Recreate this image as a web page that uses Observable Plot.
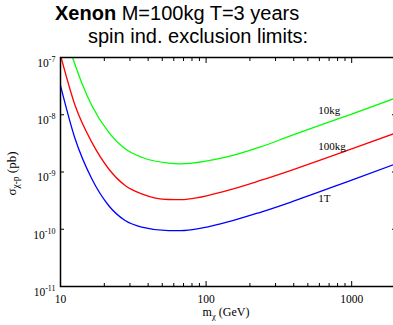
<!DOCTYPE html>
<html>
<head>
<meta charset="utf-8">
<script src="https://cdn.jsdelivr.net/npm/d3@7"></script>
<script src="https://cdn.jsdelivr.net/npm/@observablehq/plot@0.6"></script>
<style>
  html, body { margin: 0; padding: 0; background: white; }
  #chart { width: 393px; height: 325px; overflow: hidden; }
</style>
</head>
<body>
<div id="chart"></div>
<script>
// ---- data ----
const greenMass  = [12.1, 14.0, 16.4, 21.4, 27.8, 36.1, 55, 67, 139, 236, 379, 1000, 2000];
const greenSigma = [1e-7, 3.6e-8, 1.45e-8, 4.96e-9, 2.54e-9, 1.81e-9, 1.43e-9, 1.39e-9, 1.83e-9, 2.74e-9, 4.26e-9, 1.03e-8, 1.95e-8];

const redMass  = [10.1, 12.6, 16.4, 21.4, 27.8, 36.1, 55, 67, 139, 236, 379, 1000, 2000];
const redSigma = [1e-7, 1.45e-8, 3.32e-9, 1.14e-9, 5.81e-10, 4.16e-10, 3.31e-10, 3.3e-10, 4.75e-10, 7.11e-10, 1.06e-9, 2.53e-9, 4.77e-9];

const blueMass  = [10, 12.6, 16.4, 21.4, 27.8, 36.1, 55, 67, 139, 236, 379, 1000, 2000];
const blueSigma = [3.24e-8, 3.8e-9, 7.6e-10, 2.6e-10, 1.42e-10, 1.09e-10, 9.5e-11, 9.5e-11, 1.33e-10, 1.98e-10, 2.96e-10, 7.24e-10, 1.38e-9];

const seriesNames = ["10kg", "100kg", "1T"];
const seriesColors = ["#00ff00", "#ff0000", "#0000ff"];
const labelMass = [590, 590, 590];
const labelSigma = [1.19e-8, 2.79e-9, 3.44e-10];

const xMajorTicks = [10, 100, 1000];
const xMinorTicks = [20, 30, 40, 50, 60, 70, 80, 90, 200, 300, 400, 500, 600, 700, 800, 900];
const yTicks = [1e-11, 1e-10, 1e-9, 1e-8, 1e-7];
const xDomain = [10, 2000];
const yDomain = [1e-11, 1e-7];

const titleBold = "Xenon";
const titleRest = " M=100kg T=3 years";
const subtitle = "spin ind. exclusion limits:";

// ---- build tables ----
const toRows = (m, s, name) => m.map((v, i) => ({mass: v, sigma: s[i], series: name}));
const rows = [
  ...toRows(greenMass, greenSigma, seriesNames[0]),
  ...toRows(redMass, redSigma, seriesNames[1]),
  ...toRows(blueMass, blueSigma, seriesNames[2])
];
const labels = seriesNames.map((n, i) => ({name: n, mass: labelMass[i], sigma: labelSigma[i]}));

const blank = () => "";
const plot = Plot.plot({
  width: 393,
  height: 325,
  marginLeft: 60,
  marginRight: -2,
  marginTop: 57,
  marginBottom: 39,
  style: {fontFamily: "'Liberation Serif', 'Times New Roman', serif", fontSize: "11px", background: "white", color: "black"},
  x: {type: "log", domain: xDomain},
  y: {type: "log", domain: yDomain},
  color: {domain: seriesNames, range: seriesColors},
  marks: [
    Plot.line(rows, {x: "mass", y: "sigma", z: "series", stroke: "series", strokeWidth: 1.3, curve: "monotone-x", clip: true}),
    Plot.text(labels, {x: "mass", y: "sigma", text: "name", textAnchor: "start", fontSize: 11, fill: "black"}),
    // ticks, inward
    Plot.axisX(xMinorTicks, {anchor: "bottom", tickSize: -3, tickFormat: blank, label: null, strokeWidth: 1}),
    Plot.axisX(xMinorTicks, {anchor: "top", tickSize: -3, tickFormat: blank, label: null, strokeWidth: 1}),
    Plot.axisX(xMajorTicks, {anchor: "bottom", tickSize: -5, tickFormat: blank, label: null, strokeWidth: 1}),
    Plot.axisX(xMajorTicks, {anchor: "top", tickSize: -5, tickFormat: blank, label: null, strokeWidth: 1}),
    Plot.axisX(xMajorTicks, {anchor: "bottom", tickSize: 0, tickPadding: 8, tickFormat: d => String(d), label: null, fontSize: 11.5}),
    Plot.axisY(yTicks, {anchor: "left", tickSize: -4, tickFormat: blank, label: null, strokeWidth: 1}),
    Plot.axisY(yTicks, {anchor: "right", tickSize: -4, tickFormat: blank, label: null, strokeWidth: 1}),
    Plot.axisY(yTicks, {anchor: "left", tickSize: 0, tickPadding: 5, tickFormat: d => "10^" + Math.round(Math.log10(d)), label: null, fontSize: 11.5}),
    Plot.frame({stroke: "black", strokeWidth: 1.5})
  ]
});

document.getElementById("chart").appendChild(plot);

const svg = d3.select(plot);
// superscript tick labels
svg.selectAll("text").each(function() {
  const t = this.textContent;
  if (/^10\^-?\d+$/.test(t)) {
    const exp = t.split("^")[1];
    const el = d3.select(this);
    el.text(null).attr("dy", "0.5em");
    el.append("tspan").text("10");
    el.append("tspan").attr("dy", -5).attr("font-size", 8).text(exp);
  }
});

// axis titles
const ys = plot.scale("y");
const xl = svg.append("text")
  .attr("x", 226).attr("y", 316).attr("text-anchor", "middle")
  .attr("font-size", 12);
xl.append("tspan").text("m");
xl.append("tspan").attr("dy", 3).attr("font-size", 8.5).text("χ");
xl.append("tspan").attr("dy", -3).text(" (GeV)");

const yMid = (ys.range[0] + ys.range[1]) / 2;
const yl = svg.append("text")
  .attr("transform", `translate(16,${yMid + 2}) rotate(-90)`)
  .attr("text-anchor", "middle").attr("font-size", 13);
yl.append("tspan").text("σ");
yl.append("tspan").attr("dy", 3).attr("font-size", 9.5).text("χ-p");
yl.append("tspan").attr("dy", -3).text(" (pb)");

// title
const title = svg.append("text")
  .attr("x", 55).attr("y", 20).attr("text-anchor", "start")
  .attr("font-family", "'Liberation Sans', Arial, sans-serif")
  .attr("font-size", 20).style("white-space", "pre");
title.append("tspan").attr("font-weight", "bold").text(titleBold);
title.append("tspan").text(titleRest);
svg.append("text")
  .attr("x", 88).attr("y", 43).attr("text-anchor", "start")
  .attr("font-family", "'Liberation Sans', Arial, sans-serif")
  .attr("font-size", 20).style("white-space", "pre")
  .text(subtitle);
</script>
</body>
</html>
